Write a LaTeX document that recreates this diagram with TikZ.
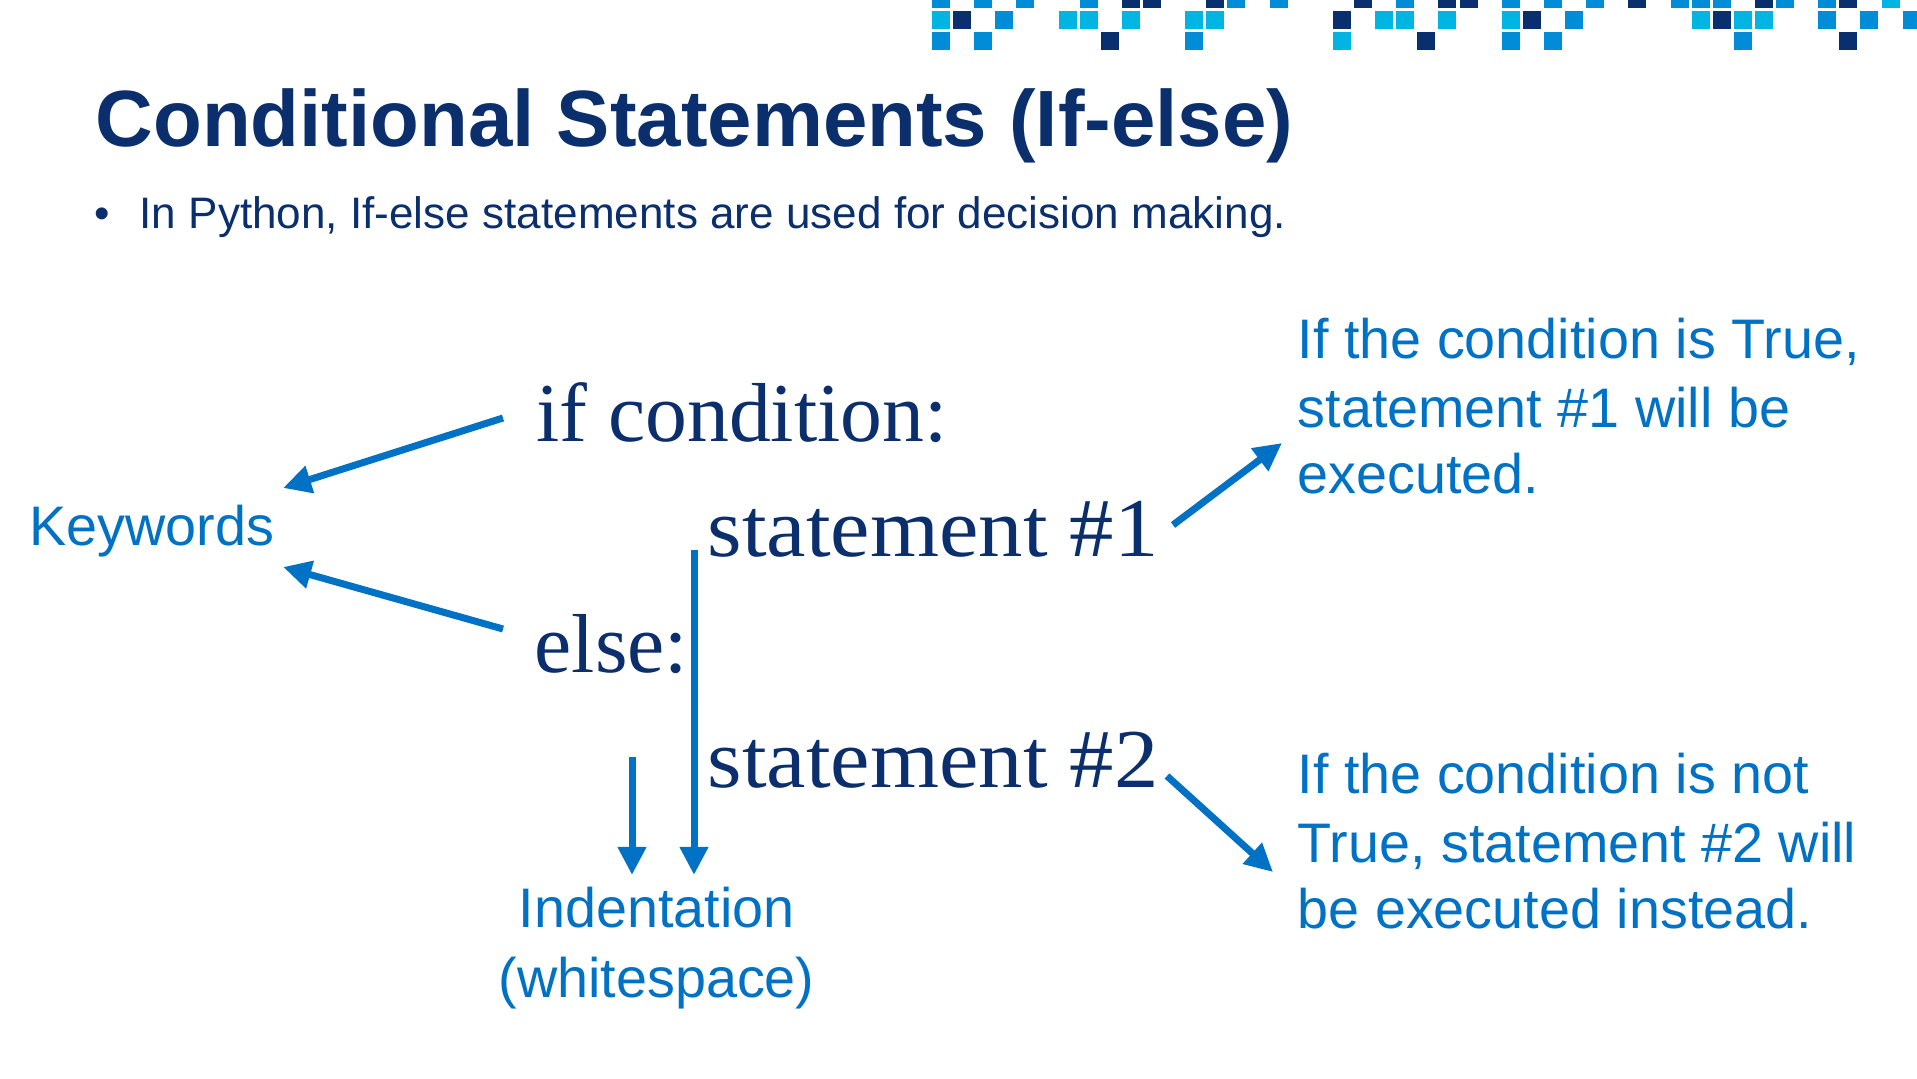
\documentclass[tikz,border=0pt]{standalone}
\usepackage{fontspec}
\setmainfont{Liberation Sans}
\newfontfamily\codefont{Liberation Serif}
\newfontfamily\codewide[FakeStretch=1.06]{Liberation Serif}
\usetikzlibrary{arrows.meta,calc}

\definecolor{navy}{HTML}{0B2F6C}
\definecolor{hint}{HTML}{0072C6}
\definecolor{tileD}{HTML}{0A2F6E}
\definecolor{tileM}{HTML}{008CD6}
\definecolor{tileC}{HTML}{00B5E2}

\tikzset{
  heading/.style={font=\fontsize{22.7}{27}\selectfont\bfseries, text=navy, inner sep=0pt, anchor=base west},
  body/.style={font=\fontsize{12.53}{15}\selectfont, text=navy, inner sep=0pt, anchor=base west},
  note/.style={font=\fontsize{15.85}{19}\selectfont, text=hint, inner sep=0pt, anchor=base west},
  code/.style={font=\codefont\fontsize{23.8}{28}\selectfont, text=navy, inner sep=0pt, anchor=base west},
  codestmt/.style={code, font=\codewide\fontsize{23.8}{28}\selectfont},
  arr/.style={draw=hint, line width=0.07cm, -{Triangle[length=0.28cm,width=0.27cm]}},
}

\begin{document}
\begin{tikzpicture}[x=0.01cm, y=-0.01cm]
\useasboundingbox (0,0) rectangle (1917,1079);
\fill[white] (0,0) rectangle (1917,1079);
\clip (0,0) rectangle (1917,1079);

% decorative tile band along the top edge (column k, row r)
\foreach \k/\r in {9/0,10/0,13/0,20/0,24/0,25/0,33/0,39/0,43/0,
                   1/1,19/1,28/1,37/1,
                   8/2,23/2,43/2}
  \fill[tileD] ({932+21.1*\k},{-10+21*\r}) rectangle ++(18,18);
\foreach \k/\r in {0/0,2/0,4/0,7/0,14/0,16/0,22/0,27/0,29/0,31/0,35/0,36/0,37/0,40/0,42/0,
                   3/1,30/1,42/1,44/1,46/1,
                   0/2,2/2,12/2,27/2,29/2,38/2}
  \fill[tileM] ({932+21.1*\k},{-10+21*\r}) rectangle ++(18,18);
\foreach \k/\r in {45/0,
                   0/1,6/1,7/1,9/1,12/1,13/1,21/1,22/1,24/1,27/1,36/1,38/1,39/1,
                   19/2}
  \fill[tileC] ({932+21.1*\k},{-10+21*\r}) rectangle ++(18,18);

% heading and bullet line
\node[heading] (title) at (95,147) {Conditional Statements (If-else)};
\node[body, anchor=base] (dot) at (102.5,229) {•};
\node[body] (intro) at (139,229) {In Python, If-else statements are used for decision making.};

% code lines
\node[code] (ifn) at (535.5,442) {if condition:};
\node[codestmt] (s1)  at (707,557) {statement \#1};
\node[code] (els) at (534,672) {else:};
\node[codestmt] (s2)  at (707,787) {statement \#2};

% annotations
\node[note] (kw) at (29,545) {Keywords};
\node[note] (t1a) at (1297,359) {If the condition is True,};
\node[note] (t1b) at (1297,427) {statement \#1 will be};
\node[note] (t1c) at (1297,493) {executed.};
\node[note] (t2a) at (1297,793) {If the condition is not};
\node[note] (t2b) at (1297,862) {True, statement \#2 will};
\node[note] (t2c) at (1297,928) {be executed instead.};
\node[note, anchor=base] (ind) at (656.5,927) {Indentation};
\node[note, anchor=base] (ws)  at (656.5,997) {(whitespace)};

% arrows
\draw[arr] ($(ifn.base west)+(-32.5,-24)$) -- ($(kw.base east)+(8,-57)$);
\draw[arr] ($(els.base west)+(-31,-43)$) -- ($(kw.base east)+(8,22)$);
\draw[arr] ($(s1.base west)+(466,-32)$) -- ($(t1c.base west)+(-15,-50)$);
\draw[arr] ($(s2.base west)+(460,-11)$) -- ($(t2b.base west)+(-24,10)$);
\draw[arr] ($(s2.base west)+(-75,-30)$) -- ($(ind.base)+(-24.5,-52)$);
\draw[arr] ($(s1.base west)+(-13,-7)$) -- ($(ind.base)+(37.5,-52)$);
\end{tikzpicture}
\end{document}
